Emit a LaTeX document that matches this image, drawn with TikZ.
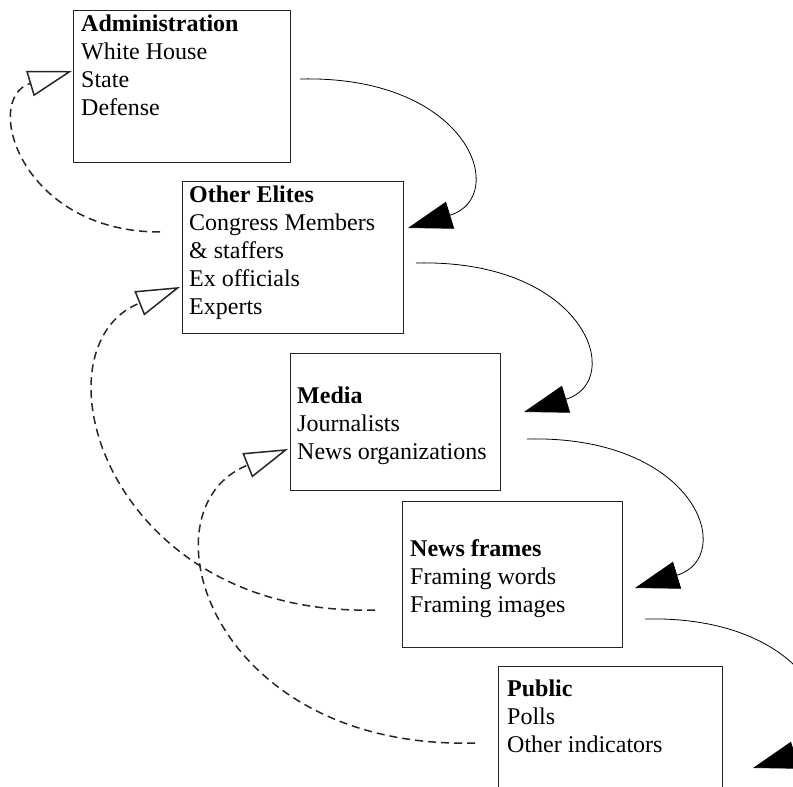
\documentclass[tikz,border=0pt]{standalone}
\usepackage{fontspec}
\setmainfont{Liberation Serif}
\usetikzlibrary{arrows.meta}

\begin{document}
\begin{tikzpicture}[x=1pt, y=1pt,
		box/.style={draw=black!85, line width=1pt, anchor=north west, inner sep=0pt},
		txt/.style={anchor=north west, inner sep=0pt, align=left, font=\fontsize{24}{28}\selectfont},
		flow/.style={draw=black, line width=0.8pt, -{Triangle[length=44pt, width=28pt]}},
		back/.style={draw=black!85, line width=1.5pt, dash pattern=on 8pt off 5pt, -{Triangle[open, length=44pt, width=26pt]}}]
			\useasboundingbox (0,0) rectangle (793,787);
			\clip (0,0) rectangle (793,787);
			% boxes
			\node at (73,777) [box, minimum width=217pt, minimum height=152pt] (admin) {};
			\node at (182,606) [box, minimum width=221pt, minimum height=152pt] (elites) {};
			\node at (290,434) [box, minimum width=210pt, minimum height=137pt] (media) {};
			\node at (402,286) [box, minimum width=220pt, minimum height=146pt] (frames) {};
			\node at (498,121) [box, minimum width=224pt, minimum height=150pt] (public) {};
			% texts
			\node at (81,772.5) [txt] (adminText) {\textbf{Administration}\\White House\\State\\Defense};
			\node at (189,601.5) [txt] (elitesText) {\textbf{Other Elites}\\Congress Members\\\& staffers\\Ex officials\\Experts};
			\node at (297,400.5) [txt] (mediaText) {\textbf{Media}\\Journalists\\News organizations};
			\node at (410,247.5) [txt] (framesText) {\textbf{News frames}\\Framing words\\Framing images};
			\node at (507,107.5) [txt] (publicText) {\textbf{Public}\\Polls\\Other indicators};
			% ends of the curves
			\coordinate (adminOut) at (300,708);
			\coordinate (elitesIn) at (408,559);
			\coordinate (elitesOut) at (416,524);
			\coordinate (mediaIn) at (524,375);
			\coordinate (mediaOut) at (527,348);
			\coordinate (framesIn) at (635,199);
			\coordinate (framesOut) at (645,168);
			\coordinate (publicIn) at (753,19);
			\coordinate (elitesFb) at (160,555);
			\coordinate (adminFbIn) at (72,716);
			\coordinate (framesFb) at (375,177);
			\coordinate (elitesFbIn) at (180,500);
			\coordinate (publicFb) at (475,44);
			\coordinate (mediaFbIn) at (288,338);
			% flow down
			\draw [flow] (adminOut) .. controls +(170,4) and +(102,31) .. (elitesIn);
			\draw [flow] (elitesOut) .. controls +(170,4) and +(102,31) .. (mediaIn);
			\draw [flow] (mediaOut) .. controls +(170,4) and +(102,31) .. (framesIn);
			\draw [flow] (framesOut) .. controls +(170,4) and +(102,31) .. (publicIn);
			% feedback
			\draw [back] (elitesFb) .. controls +(-140,0) and +(-90,-27) .. (adminFbIn);
			\draw [back] (framesFb) .. controls +(-270,-7) and +(-150,-60) .. (elitesFbIn);
			\draw [back] (publicFb) .. controls +(-265,-7) and +(-150,-60) .. (mediaFbIn);
		\end{tikzpicture}
\end{document}
